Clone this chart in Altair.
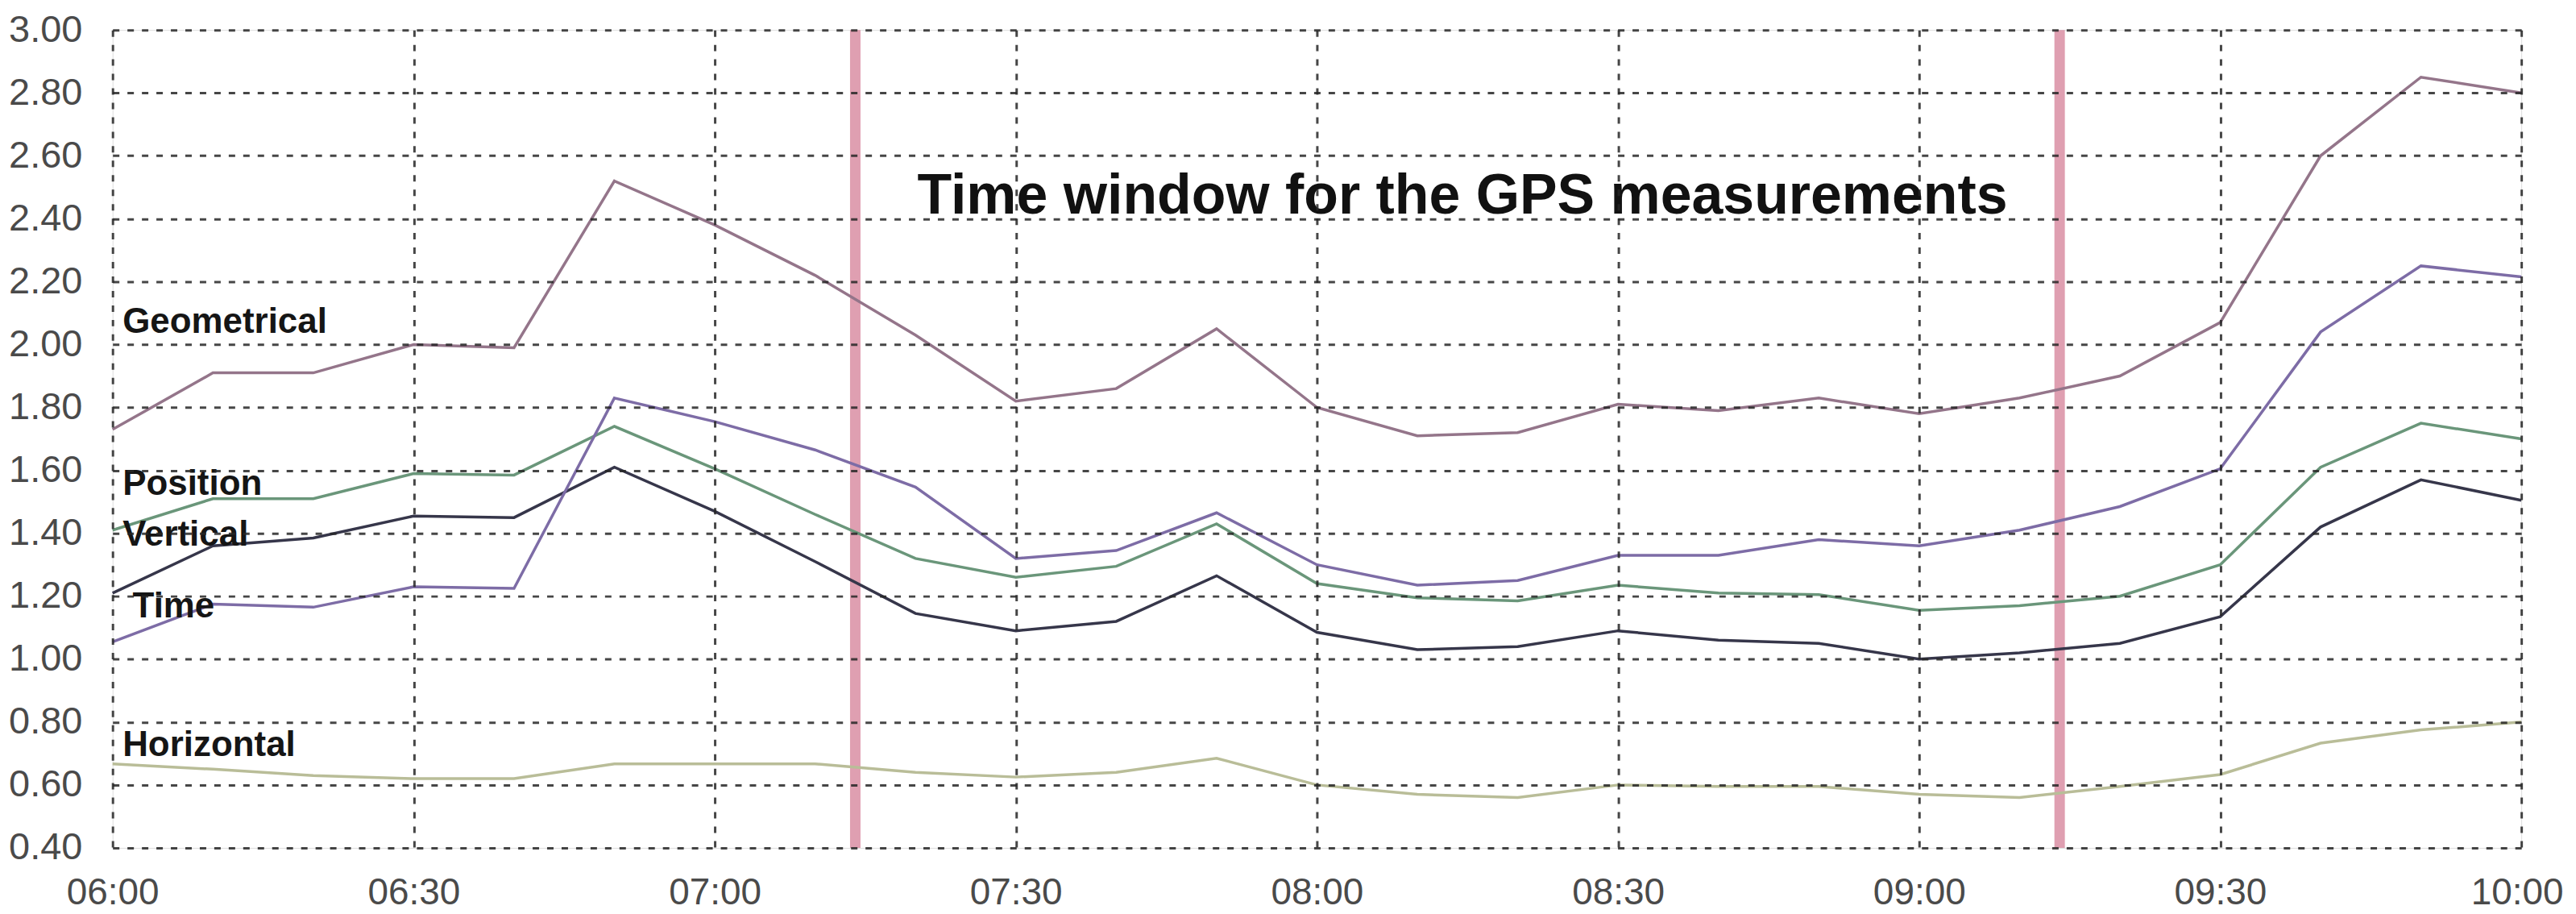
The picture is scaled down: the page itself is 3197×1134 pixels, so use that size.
import altair as alt
import pandas as pd

# ---- data ----
times = ["06:00", "06:10", "06:20", "06:30", "06:40", "06:50",
         "07:00", "07:10", "07:20", "07:30", "07:40", "07:50",
         "08:00", "08:10", "08:20", "08:30", "08:40", "08:50",
         "09:00", "09:10", "09:20", "09:30", "09:40", "09:50", "10:00"]

geometrical = [1.73, 1.91, 1.91, 2.00, 1.99, 2.52, 2.38, 2.22, 2.03, 1.82, 1.86, 2.05,
               1.80, 1.71, 1.72, 1.81, 1.79, 1.83, 1.78, 1.83, 1.90, 2.07, 2.60, 2.85, 2.80]
position = [1.41, 1.51, 1.51, 1.59, 1.585, 1.74, 1.605, 1.46, 1.32, 1.26, 1.295, 1.43,
            1.24, 1.195, 1.185, 1.235, 1.21, 1.205, 1.155, 1.17, 1.20, 1.30, 1.61, 1.75, 1.70]
vertical = [1.21, 1.36, 1.385, 1.455, 1.45, 1.61, 1.47, 1.31, 1.145, 1.09, 1.12, 1.265,
            1.085, 1.03, 1.04, 1.09, 1.06, 1.05, 1.00, 1.02, 1.05, 1.135, 1.42, 1.57, 1.505]
time_dop = [1.055, 1.175, 1.165, 1.23, 1.225, 1.83, 1.755, 1.665, 1.547, 1.32, 1.345, 1.465,
            1.30, 1.235, 1.25, 1.33, 1.33, 1.38, 1.36, 1.41, 1.485, 1.605, 2.04, 2.25, 2.215]
horizontal = [0.667, 0.65, 0.63, 0.62, 0.62, 0.667, 0.667, 0.667, 0.64, 0.625, 0.64, 0.685,
              0.60, 0.57, 0.56, 0.60, 0.595, 0.595, 0.57, 0.56, 0.595, 0.633, 0.733, 0.775, 0.80]

series_names = ["Geometrical", "Position", "Vertical", "Time", "Horizontal"]
series_colors = ["#94758a", "#6a967a", "#36364a", "#7d6ca6", "#b9bd98"]

label_times = ["06:01", "06:01", "06:01", "06:02", "06:01"]
label_values = [2.07, 1.555, 1.395, 1.165, 0.725]

x_tick_labels = ["06:00", "06:30", "07:00", "07:30", "08:00", "08:30", "09:00", "09:30", "10:00"]
y_ticks = [0.40, 0.60, 0.80, 1.00, 1.20, 1.40, 1.60, 1.80, 2.00, 2.20, 2.40, 2.60, 2.80, 3.00]

window_times = ["07:14", "09:14"]
window_text = "Time window for the GPS measurements"
window_text_time = "08:14"
window_text_value = 2.47


def to_min(t):
    h, m = t.split(":")
    return (int(h) - 6) * 60 + int(m)


rows = []
for name, vals in zip(series_names, [geometrical, position, vertical, time_dop, horizontal]):
    for t, v in zip(times, vals):
        rows.append({"series": name, "t": to_min(t), "v": v})
df = pd.DataFrame(rows)

labels_df = pd.DataFrame({"series": series_names,
                          "t": [to_min(t) for t in label_times],
                          "v": label_values})
bands_df = pd.DataFrame({"t": [to_min(t) for t in window_times]})
title_df = pd.DataFrame({"t": [to_min(window_text_time) + 0.5], "v": [window_text_value], "txt": [window_text]})

FONT = "Liberation Sans"
x_vals = [to_min(t) for t in x_tick_labels]
last_x = x_vals[-1]
label_expr = "{" + ",".join(f"'{to_min(t)}':'{t}'" for t in x_tick_labels) + "}[toString(datum.value)]"

x_scale = alt.Scale(domain=[0, 240], nice=False, zero=False)
y_scale = alt.Scale(domain=[0.4, 3.0], nice=False, zero=False)

x_axis = alt.Axis(values=x_vals, labelExpr=label_expr, title=None, ticks=False, domain=False,
                  labelFontSize=46, labelFont=FONT, labelColor="#4a4a4a", labelPadding=34,
                  labelFlush=False, labelOverlap=False,
                  labelAlign={"condition": {"test": f"datum.value == {last_x}", "value": "right"},
                              "value": "center"},
                  labelOffset={"condition": {"test": f"datum.value == {last_x}", "value": 52},
                               "value": 0},
                  grid=True, gridDash=[8, 10], gridColor="#262626", gridWidth=3, gridOpacity=0.85,
                  zindex=1)
y_axis = alt.Axis(values=y_ticks, format=".2f", title=None, ticks=False, domain=False,
                  labelFontSize=47, labelFont=FONT, labelColor="#4a4a4a", labelPadding=38,
                  labelFlush=False, labelOverlap=False,
                  grid=True, gridDash=[8, 10], gridColor="#262626", gridWidth=3, gridOpacity=0.85,
                  zindex=1)

bands = alt.Chart(bands_df).mark_rule(color="#d98ea3", strokeWidth=13, opacity=0.85).encode(
    x=alt.X("t:Q", scale=x_scale, axis=x_axis)
)

lines = alt.Chart(df).mark_line(strokeWidth=3.5).encode(
    x=alt.X("t:Q", scale=x_scale, axis=x_axis),
    y=alt.Y("v:Q", scale=y_scale, axis=y_axis),
    color=alt.Color("series:N", scale=alt.Scale(domain=series_names, range=series_colors), legend=None),
    detail="series:N",
)

labels = alt.Chart(labels_df).mark_text(align="left", baseline="middle", font=FONT, fontSize=44,
                                        fontWeight="bold", color="#151515").encode(
    x=alt.X("t:Q", scale=x_scale),
    y=alt.Y("v:Q", scale=y_scale),
    text="series:N",
)

title = alt.Chart(title_df).mark_text(align="center", baseline="middle", font=FONT, fontSize=70,
                                      fontWeight="bold", color="#111111").encode(
    x=alt.X("t:Q", scale=x_scale),
    y=alt.Y("v:Q", scale=y_scale),
    text="txt:N",
)

chart = alt.layer(bands, lines, labels, title).properties(
    width=2996, height=1017,
    autosize=alt.AutoSizeParams(type="none"),
    padding={"left": 132, "top": 28, "right": 60, "bottom": 81},
).configure_view(
    stroke="#7a7a7a", strokeWidth=5
).configure(background="white")

chart.save("out.html", embed_options={"renderer": "svg", "actions": False})
